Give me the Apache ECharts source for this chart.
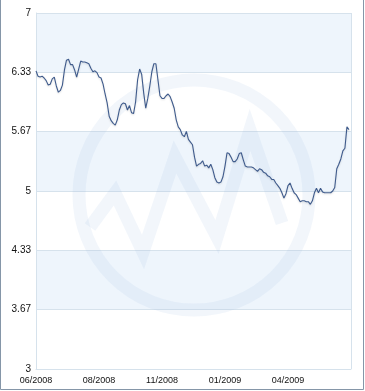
<!DOCTYPE html>
<html>
<head>
<meta charset="utf-8">
<script src="https://cdn.jsdelivr.net/npm/echarts@6/dist/echarts.min.js"></script>
<style>
html,body{margin:0;padding:0;background:#fff;}
#c{width:365px;height:391px;}
</style>
</head>
<body>
<div id="c"></div>
<script>
// Tick labels
const xTickLabels = ['06/2008', '08/2008', '11/2008', '01/2009', '04/2009'];
const xTickPositions = [0, 31, 62, 93, 124];
const yTicks = [3, 3.67, 4.33, 5, 5.67, 6.33, 7];

// Series values (sampled trading periods, Jun 2008 -> Jun 2009)
const values = [
  6.35, 6.29, 6.28, 6.29, 6.27, 6.24, 6.19, 6.20, 6.26, 6.28,
  6.18, 6.11, 6.13, 6.19, 6.36, 6.47, 6.48, 6.42, 6.42, 6.36,
  6.28, 6.37, 6.46, 6.45, 6.45, 6.44, 6.43, 6.38, 6.34, 6.35,
  6.33, 6.28, 6.27, 6.20, 6.09, 5.99, 5.84, 5.79, 5.76, 5.74,
  5.80, 5.91, 5.97, 5.99, 5.98, 5.91, 5.96, 5.88, 5.87, 6.00,
  6.25, 6.37, 6.31, 6.10, 5.93, 6.04, 6.18, 6.34, 6.43, 6.43,
  6.25, 6.07, 6.04, 6.04, 6.07, 6.09, 6.06, 6.00, 5.93, 5.80,
  5.72, 5.69, 5.63, 5.61, 5.67, 5.58, 5.55, 5.52, 5.38, 5.28,
  5.30, 5.31, 5.34, 5.28, 5.29, 5.26, 5.30, 5.24, 5.15, 5.10,
  5.09, 5.10, 5.16, 5.28, 5.43, 5.42, 5.38, 5.33, 5.33, 5.36,
  5.42, 5.43, 5.35, 5.28, 5.27, 5.27, 5.27, 5.26, 5.24, 5.22,
  5.25, 5.24, 5.21, 5.20, 5.17, 5.16, 5.13, 5.13, 5.09, 5.06,
  5.03, 4.98, 4.92, 4.97, 5.06, 5.09, 5.03, 4.98, 4.96, 4.92,
  4.88, 4.89, 4.89, 4.88, 4.88, 4.85, 4.89, 4.98, 5.03, 4.98,
  5.03, 4.99, 4.98, 4.98, 4.98, 4.98, 5.00, 5.04, 5.25, 5.30,
  5.36, 5.45, 5.48, 5.72, 5.69
];

const chart = echarts.init(document.getElementById('c'), null, {renderer: 'canvas'});
const gridColor = '#d6e2ec';
const font = 'Liberation Sans, Arial, sans-serif';
const wm = 'rgba(150,185,220,0.12)';

chart.setOption({
  animation: false,
  backgroundColor: '#ffffff',
  grid: {left: 36, right: 14, top: 13, bottom: 22, containLabel: false},
  graphic: [
    {
      type: 'circle', z: 1, silent: true,
      shape: {cx: 194, cy: 195, r: 115},
      style: {fill: 'none', stroke: wm, lineWidth: 13}
    },
    {
      type: 'polyline', z: 1, silent: true,
      shape: {points: [[90, 227], [115, 193], [143, 252], [175, 157], [217, 237], [250, 130], [282, 223]]},
      style: {fill: 'none', stroke: wm, lineWidth: 13, lineJoin: 'miter'}
    },
    {
      type: 'polyline', z: 10, silent: true,
      shape: {points: [[0.5, 0], [0.5, 389.5], [363.5, 389.5], [363.5, 0]]},
      style: {fill: 'none', stroke: '#8596a8', lineWidth: 1}
    }
  ],
  xAxis: {
    type: 'value',
    min: 0,
    max: 155,
    axisLine: {show: true, lineStyle: {color: gridColor}},
    axisTick: {show: false, customValues: xTickPositions},
    splitLine: {show: false},
    axisLabel: {
      customValues: xTickPositions,
      formatter: function (v) { const i = xTickPositions.indexOf(v); return i >= 0 ? xTickLabels[i] : ''; },
      color: '#111', fontSize: 9, fontFamily: font, margin: 7
    }
  },
  yAxis: {
    type: 'value',
    min: 3,
    max: 7,
    axisLine: {show: true, lineStyle: {color: gridColor}},
    axisTick: {show: false, customValues: yTicks},
    splitLine: {show: true, lineStyle: {color: gridColor, width: 1}},
    splitArea: {show: true, areaStyle: {color: ['#ffffff', '#eef5fc']}},
    axisLabel: {
      customValues: yTicks,
      formatter: function (v) { return String(v); },
      color: '#111', fontSize: 10, fontFamily: font, margin: 5
    }
  },
  series: [{
    type: 'line',
    z: 5,
    data: values.map(function (v, i) { return [i, v]; }),
    showSymbol: false,
    smooth: false,
    lineStyle: {color: '#3f5b8c', width: 1.1, shadowColor: 'rgba(0,0,0,0.15)', shadowBlur: 2, shadowOffsetY: 1}
  }, {
    type: 'line',
    data: [],
    markLine: {
      silent: true, symbol: 'none', label: {show: false},
      lineStyle: {color: gridColor, type: 'solid', width: 1},
      data: [{xAxis: 155}]
    }
  }]
});
</script>
</body>
</html>
